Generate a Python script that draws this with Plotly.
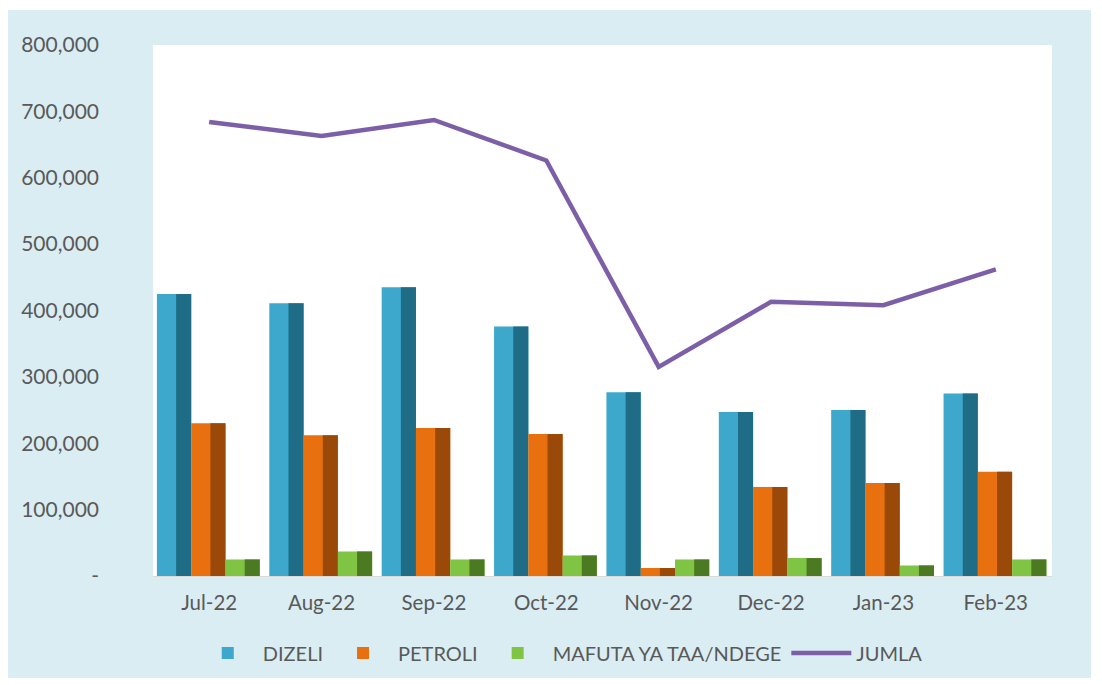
import plotly.graph_objects as go

months = ["Jul-22", "Aug-22", "Sep-22", "Oct-22", "Nov-22", "Dec-22", "Jan-23", "Feb-23"]
dizeli = [425000, 411000, 435000, 376000, 277000, 247000, 250000, 275000]
petroli = [230000, 212000, 223000, 214000, 12000, 134000, 140000, 157000]
mafuta = [25000, 37000, 25000, 31000, 25000, 27000, 16000, 25000]
jumla = [684000, 663000, 687000, 626000, 315000, 413000, 408000, 462000]
ytick_vals = [0, 100000, 200000, 300000, 400000, 500000, 600000, 700000, 800000]
ytick_text = ["-", "100,000", "200,000", "300,000", "400,000", "500,000", "600,000", "700,000", "800,000"]

xpos = list(range(len(months)))
W = 0.305
series = [
    ("DIZELI", dizeli, -0.465, "#3DA8CB", "#1F6C86"),
    ("PETROLI", petroli, -0.16, "#E8700F", "#9A4909"),
    ("MAFUTA YA TAA/NDEGE", mafuta, 0.145, "#80C443", "#4C7A22"),
]

fig = go.Figure()
for name, vals, off, light, dark in series:
    fig.add_trace(go.Bar(
        x=xpos, y=vals, name=name, offset=off, width=W,
        marker=dict(color=light, line=dict(width=0)),
    ))
    fig.add_trace(go.Bar(
        x=xpos, y=vals, name=name, offset=off + 0.56 * W, width=0.44 * W,
        marker=dict(color=dark, line=dict(width=0)),
        showlegend=False, hoverinfo="skip",
    ))

fig.add_trace(go.Scatter(
    x=xpos, y=jumla, name="JUMLA", mode="lines",
    line=dict(color="#7D5FA8", width=4.5),
))

fig.update_layout(
    width=1094, height=677,
    barmode="overlay",
    paper_bgcolor="white",
    plot_bgcolor="white",
    margin=dict(l=145, r=50, t=37, b=109),
    font=dict(family="Lato, Open Sans, sans-serif", color="#595959", size=20),
    showlegend=True,
    legend=dict(orientation="h", x=0.453, xanchor="center", y=-0.145, yanchor="middle",
                font=dict(size=20, color="#595959"), bgcolor="rgba(0,0,0,0)",
                itemwidth=60, tracegroupgap=0),
    shapes=[
        dict(type="rect", xref="paper", yref="paper", x0=-0.1613, x1=1.0434, y0=-0.192, y1=1.066,
             fillcolor="#DAEDF3", line=dict(width=0), layer="below"),
        dict(type="rect", xref="paper", yref="paper", x0=0, x1=1, y0=0, y1=1,
             fillcolor="white", line=dict(width=0), layer="below"),
    ],
)
fig.update_xaxes(
    range=[-0.5, 7.5], tickvals=xpos, ticktext=months, showgrid=False, zeroline=False,
    showline=True, linecolor="#D9D9D9", linewidth=1, ticks="", ticklabelstandoff=8,
    tickfont=dict(size=20.5, color="#595959"), fixedrange=True,
)
fig.update_yaxes(
    range=[0, 800000], tickvals=ytick_vals, ticktext=ytick_text, showgrid=False,
    zeroline=False, showline=False, ticks="", ticklabelstandoff=53,
    tickfont=dict(size=21, color="#595959"), fixedrange=True,
)

fig.write_html("out.html")
